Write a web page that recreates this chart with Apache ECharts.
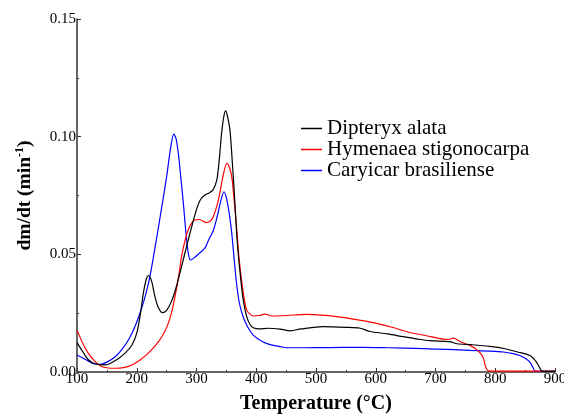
<!DOCTYPE html>
<html><head><meta charset="utf-8">
<script src="https://cdn.jsdelivr.net/npm/echarts@6/dist/echarts.min.js"></script>
<style>html,body{margin:0;padding:0;background:#fff}#c{width:564px;height:414px}</style>
</head><body><div id="c"></div>
<script>
var seriesNames = ['Dipteryx alata', 'Hymenaea stigonocarpa', 'Caryicar brasiliense'];
var seriesColors = ['#000000', '#ff0000', '#0000ff'];
var xTicks = [100, 200, 300, 400, 500, 600, 700, 800, 900];
var yTicks = [0.00, 0.05, 0.10, 0.15];

var dipteryx = [
[100,0.0125],[110,0.0085],[119,0.0052],[130,0.0035],[147,0.0030],[165,0.0050],[180,0.0079],[192,0.0115],
[200,0.0165],[206,0.0245],[211,0.0334],[216,0.0395],[220,0.0410],[225,0.0385],[230,0.0325],[236,0.0275],
[243,0.0252],[250,0.0262],[258,0.0299],[266,0.0360],[275,0.0448],[284,0.0540],[292,0.0618],[300,0.0690],
[306,0.0730],[314,0.0752],[322,0.0762],[328,0.0775],[334,0.0816],[338,0.0900],[342,0.1014],[346,0.1090],
[349,0.1110],[352,0.1085],[356,0.1028],[360,0.0890],[364,0.0731],[368,0.0560],[373,0.0420],[378,0.0310],
[384,0.0235],[390,0.0200],[395,0.0188],[405,0.0183],[420,0.0186],[440,0.0182],[457,0.0175],[475,0.0183],
[512,0.0193],[550,0.0190],[574,0.0186],[590,0.0172],[620,0.0162],[646,0.0150],[670,0.0140],[691,0.0133],
[724,0.0129],[736,0.0120],[760,0.0116],[791,0.0109],[815,0.0100],[836,0.0086],[858,0.0070],[865,0.0055],
[869,0.0042],[874,0.0020],[878,0.0004],[890,0.0003],[900,0.0003]
];
var hymenaea = [
[100,0.0178],[110,0.0120],[119,0.0079],[130,0.0045],[141,0.0023],[152,0.0017],[164,0.0016],[180,0.0020],
[192,0.0030],[205,0.0050],[219,0.0079],[232,0.0115],[242,0.0150],[251,0.0195],[258,0.0250],[264,0.0320],
[270,0.0405],[275,0.0490],[281,0.0561],[288,0.0615],[297,0.0646],[305,0.0648],[316,0.0635],[323,0.0642],
[328,0.0660],[334,0.0705],[339,0.0760],[345,0.0840],[351,0.0887],[355,0.0870],[359,0.0830],[363,0.0730],
[367,0.0617],[371,0.0490],[376,0.0377],[380,0.0310],[384,0.0263],[390,0.0245],[395,0.0238],[405,0.0240],
[415,0.0246],[426,0.0238],[450,0.0240],[484,0.0245],[510,0.0242],[535,0.0235],[565,0.0224],[596,0.0210],
[627,0.0190],[657,0.0168],[685,0.0154],[713,0.0140],[722,0.0138],[730,0.0144],[738,0.0134],[747,0.0123],
[760,0.0110],[769,0.0095],[775,0.0080],[780,0.0060],[783,0.0030],[786,0.0010],[792,0.0004],[850,0.0004],
[900,0.0004]
];
var caryicar = [
[100,0.0072],[115,0.0052],[130,0.0034],[140,0.0033],[150,0.0042],[164,0.0065],[175,0.0095],[187,0.0140],
[197,0.0193],[208,0.0270],[215,0.0330],[222,0.0405],[232,0.0550],[242,0.0703],[250,0.0830],[256,0.0940],
[262,0.1011],[266,0.0990],[270,0.0920],[274,0.0820],[278,0.0717],[282,0.0600],[286,0.0510],[290,0.0476],
[296,0.0485],[305,0.0505],[314,0.0526],[320,0.0560],[328,0.0600],[335,0.0665],[341,0.0730],[346,0.0766],
[350,0.0740],[355,0.0670],[359,0.0590],[363,0.0480],[367,0.0377],[372,0.0290],[378,0.0235],[386,0.0190],
[395,0.0157],[410,0.0130],[425,0.0115],[440,0.0108],[451,0.0103],[480,0.0103],[520,0.0104],[579,0.0105],
[620,0.0103],[680,0.0099],[720,0.0096],[758,0.0092],[790,0.0089],[814,0.0085],[830,0.0078],[841,0.0070],
[850,0.0058],[858,0.0042],[863,0.0020],[867,0.0004],[880,0.0003],[900,0.0003]
];
var allData = [dipteryx, hymenaea, caryicar];

var serif = 'Liberation Serif';
var chart = echarts.init(document.getElementById('c'), null, {renderer: 'canvas'});
chart.setOption({
  animation: false,
  backgroundColor: '#fff',
  grid: {left: 77, right: 9, top: 19, bottom: 42, containLabel: false, outerBoundsMode: 'none'},
  legend: {
    orient: 'vertical', left: 301, top: 118, itemGap: 0, itemWidth: 21, itemHeight: 1.5,
    icon: 'rect',
    data: seriesNames,
    textStyle: {fontFamily: serif, fontSize: 21, color: '#000', lineHeight: 20},
    padding: 0
  },
  xAxis: {
    type: 'value', min: xTicks[0], max: xTicks[xTicks.length-1], interval: 100,
    name: 'Temperature (°C)', nameLocation: 'middle', nameGap: 22,
    nameTextStyle: {fontFamily: serif, fontSize: 20, fontWeight: 'bold', color: '#000'},
    axisLine: {lineStyle: {color: '#333', width: 1.5}},
    axisTick: {inside: true, length: 4, lineStyle: {color: '#333'}},
    minorTick: {show: true, splitNumber: 2, length: 2, lineStyle: {color: '#333'}},
    splitLine: {show: false},
    axisLabel: {fontFamily: serif, fontSize: 15, color: '#000', margin: 0}
  },
  yAxis: {
    type: 'value', min: yTicks[0], max: yTicks[yTicks.length-1], interval: 0.05,
    name: '{a|dm/dt (min}{s|-1}{a|)}', nameLocation: 'middle', nameGap: 42,
    nameTextStyle: {rich: {
      a: {fontFamily: serif, fontSize: 19.5, fontWeight: 'bold', color: '#000'},
      s: {fontFamily: serif, fontSize: 12, fontWeight: 'bold', color: '#000', verticalAlign: 'top', padding: [0,0,9,0]}
    }},
    axisLine: {show: true, lineStyle: {color: '#333', width: 1.5}},
    axisTick: {show: true, inside: true, length: 4, lineStyle: {color: '#333'}},
    minorTick: {show: true, splitNumber: 2, length: 2, lineStyle: {color: '#333'}},
    splitLine: {show: false},
    axisLabel: {fontFamily: serif, fontSize: 15, color: '#000', margin: 1,
      formatter: function (v) { return v.toFixed(2); }}
  },
  series: allData.map(function (d, i) {
    return {
      name: seriesNames[i], type: 'line', data: d, symbol: 'none', showSymbol: false,
      smooth: 0.3,
      lineStyle: {color: seriesColors[i], width: 1.2},
      itemStyle: {color: seriesColors[i]},
      z: 3 - i
    };
  })
});
</script></body></html>
